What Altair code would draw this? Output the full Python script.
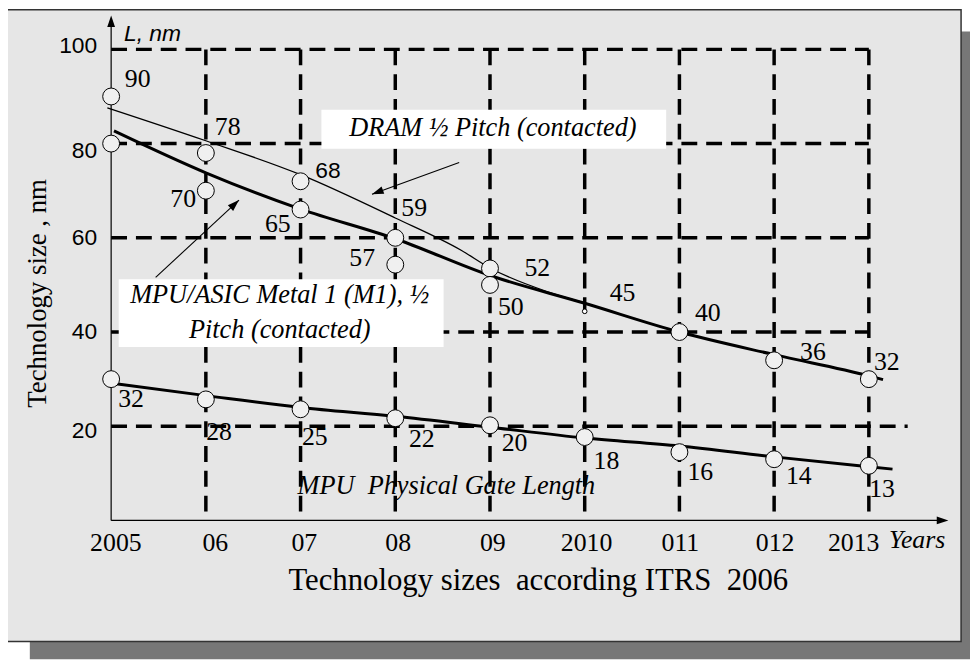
import altair as alt
import pandas as pd

# ---------------- data ----------------
years = [2005, 2006, 2007, 2008, 2009, 2010, 2011, 2012, 2013]

# circles as drawn
dram_years = [2005, 2006, 2007, 2008, 2009]
dram_pts = [90, 78, 72, 60, 53.5]
m1_years = [2005, 2006, 2007, 2008, 2009, 2011, 2012, 2013]
m1_pts = [80, 70, 66, 54.3, 50, 40, 34, 30]
mid_years = [2010]
mid_pts = [44.4]
gate_pts = [30, 25.7, 23.6, 21.7, 20.2, 17.7, 14.5, 13, 11.6]

# trend curves
dram_curve_x = [2004.96, 2006, 2007, 2008, 2008.7, 2009, 2009.6, 2010]
dram_curve_y = [87.6, 80.6, 73.4, 64.2, 57.3, 53.6, 48.6, 46.2]
m1_curve_x = [2005.03, 2006, 2007, 2008, 2009, 2010, 2011, 2012, 2013, 2013.15]
m1_curve_y = [82.7, 73.8, 66.1, 59.8, 52.0, 46.1, 40.0, 35.2, 30.7, 29.9]
gate_curve_x = [2005.05, 2006, 2007, 2008, 2009, 2010, 2011, 2012, 2013, 2013.25]
gate_curve_y = [29.0, 26.5, 24.0, 22.1, 19.8, 17.5, 15.8, 13.5, 11.4, 10.9]

# printed values next to the circles
val_text = ["90", "78", "68", "59", "52", "45", "40", "36", "32",
            "70", "65", "57", "50",
            "32", "28", "25", "22", "20", "18", "16", "14", "13"]
val_x = [2005.28, 2006.23, 2007.29, 2008.20, 2009.50, 2010.40, 2011.30, 2012.41, 2013.19,
         2005.76, 2006.76, 2007.65, 2009.22,
         2005.21, 2006.14, 2007.15, 2008.28, 2009.26, 2010.23, 2011.22, 2012.26, 2013.14]
val_y = [93.7, 83.6, 74.1, 66.3, 53.5, 48.2, 44.0, 35.8, 33.7,
         68.2, 62.9, 55.8, 45.3,
         25.7, 18.7, 17.7, 17.3, 16.4, 12.6, 10.3, 9.5, 6.7]
val_sans = [False, False, True] + [False] * 19

# axis tick labels
ytick_text = ["20", "40", "60", "80", "100"]
ytick_pos = [19.0, 40.0, 60.0, 78.5, 100.8]
xtick_text = ["2005", "06", "07", "08", "09", "2010", "011", "012", "2013"]
xtick_pos = [2005.05, 2006.10, 2007.04, 2008.03, 2009.03, 2010.02, 2011.01, 2012.01, 2012.84]

# dashed grid
hgrid_vals = [20, 40, 60, 80, 100]
hgrid_end = [2013.41, 2013, 2013, 2013, 2013]
vgrid_years = [2006, 2007, 2008, 2009, 2010, 2011, 2012, 2013]

# annotation boxes / texts
box_x0 = [2007.22, 2005.08]
box_x1 = [2010.86, 2008.51]
box_y0 = [78.9, 36.8]
box_y1 = [87.2, 51.2]
NB = "\u00a0"
note_text = ["DRAM ½ Pitch (contacted)", "MPU/ASIC Metal 1 (M1), ½", "Pitch (contacted)",
             "MPU" + NB + " Physical Gate Length"]
note_x = [2009.03, 2006.78, 2006.78, 2008.54]
note_y = [83.4, 47.8, 40.4, 7.4]

# arrows (start -> tip)
arr_x0 = [2008.675, 2005.47]
arr_y0 = [76.0, 51.6]
arr_x1 = [2007.754, 2006.35]
arr_y1 = [69.26, 68.0]
arr_angle = [250, 47]

# ---------------- chart ----------------
XS = alt.Scale(domain=[2005, 2013], nice=False, zero=False)
YS = alt.Scale(domain=[0, 100], nice=False, zero=False)


def xq(f):
    return alt.X(f"{f}:Q", scale=XS, axis=None)


def yq(f):
    return alt.Y(f"{f}:Q", scale=YS, axis=None)


SERIF = "Liberation Serif"
SANS = "Liberation Sans"
one = pd.DataFrame({"a": [0]})

shadow = alt.Chart(one).mark_rect(color="#777777").encode(
    x=alt.value(-82), x2=alt.value(866), y=alt.value(-18), y2=alt.value(615))
frame = alt.Chart(one).mark_rect(fill="#e6e6e6", stroke="#333333", strokeWidth=1.5).encode(
    x=alt.value(-105), x2=alt.value(857), y=alt.value(-40), y2=alt.value(597))

hgrid = alt.Chart(pd.DataFrame({"y": hgrid_vals, "x0": [2005] * 5, "x1": hgrid_end})).mark_rule(
    color="black", strokeWidth=3.5, strokeDash=[16, 9]).encode(
    x=xq("x0"), x2="x1:Q", y=yq("y"))
vgrid = alt.Chart(pd.DataFrame({"x": vgrid_years, "y0": [100] * 8, "y1": [0] * 8})).mark_rule(
    color="black", strokeWidth=3.5, strokeDash=[16, 9]).encode(
    x=xq("x"), y=yq("y0"), y2="y1:Q")

axes_df = pd.DataFrame({"x0": [2005, 2005], "y0": [0, 0], "x1": [2005, 2013.78], "y1": [106.5, 0]})
axes = alt.Chart(axes_df).mark_rule(color="black", strokeWidth=1.2).encode(
    x=xq("x0"), y=yq("y0"), x2="x1:Q", y2="y1:Q")

HEAD = "M0,0L-0.6,1.8L0.6,1.8Z"
heads_df = pd.DataFrame({"x": [2005, 2013.84] + arr_x1, "y": [107.2, 0] + arr_y1,
                         "ang": [0, 90] + arr_angle})
heads = alt.Chart(heads_df).mark_point(shape=HEAD, filled=True, color="black", opacity=1, size=170).encode(
    x=xq("x"), y=yq("y"), angle=alt.Angle("ang:Q", scale=None))
arrows = alt.Chart(pd.DataFrame({"x0": arr_x0, "y0": arr_y0, "x1": arr_x1, "y1": arr_y1})).mark_rule(
    color="black", strokeWidth=1.1).encode(x=xq("x0"), y=yq("y0"), x2="x1:Q", y2="y1:Q")

boxes = alt.Chart(pd.DataFrame({"x0": box_x0, "x1": box_x1, "y0": box_y0, "y1": box_y1})).mark_rect(
    color="white", opacity=1).encode(x=xq("x0"), x2="x1:Q", y=yq("y0"), y2="y1:Q")

dram_line = alt.Chart(pd.DataFrame({"x": dram_curve_x, "y": dram_curve_y})).mark_line(
    color="black", strokeWidth=1.3, interpolate="monotone").encode(x=xq("x"), y=yq("y"))
m1_line = alt.Chart(pd.DataFrame({"x": m1_curve_x, "y": m1_curve_y})).mark_line(
    color="black", strokeWidth=3, interpolate="monotone").encode(x=xq("x"), y=yq("y"))
gate_line = alt.Chart(pd.DataFrame({"x": gate_curve_x, "y": gate_curve_y})).mark_line(
    color="black", strokeWidth=3, interpolate="monotone").encode(x=xq("x"), y=yq("y"))

circ_df = pd.DataFrame({"x": dram_years + m1_years + years, "y": dram_pts + m1_pts + gate_pts})
circles = alt.Chart(circ_df).mark_circle(
    color="#f0f0f0", stroke="black", strokeWidth=1, opacity=1, size=290).encode(x=xq("x"), y=yq("y"))
mid = alt.Chart(pd.DataFrame({"x": mid_years, "y": mid_pts})).mark_circle(
    color="white", stroke="black", strokeWidth=1, opacity=1, size=22).encode(x=xq("x"), y=yq("y"))

vals_df = pd.DataFrame({"t": val_text, "x": val_x, "y": val_y, "sans": val_sans})
vals_serif = alt.Chart(vals_df).transform_filter("!datum.sans").mark_text(
    font=SERIF, fontSize=26, color="black", align="center", baseline="middle").encode(
    x=xq("x"), y=yq("y"), text="t:N")
vals_sans = alt.Chart(vals_df).transform_filter("datum.sans").mark_text(
    font=SANS, fontSize=23, color="black", align="center", baseline="middle").encode(
    x=xq("x"), y=yq("y"), text="t:N")

notes = alt.Chart(pd.DataFrame({"t": note_text, "x": note_x, "y": note_y})).mark_text(
    font=SERIF, fontSize=26.5, fontStyle="italic", color="black", align="center", baseline="middle").encode(
    x=xq("x"), y=yq("y"), text="t:N")

yticks = alt.Chart(pd.DataFrame({"t": ytick_text, "y": ytick_pos, "x": [2004.853] * 5})).mark_text(
    font=SANS, fontSize=23, color="black", align="right", baseline="middle").encode(
    x=xq("x"), y=yq("y"), text="t:N")
xticks = alt.Chart(pd.DataFrame({"t": xtick_text, "x": xtick_pos, "y": [-4.8] * 9})).mark_text(
    font=SERIF, fontSize=26, color="black", align="center", baseline="middle").encode(
    x=xq("x"), y=yq("y"), text="t:N")

titles_df = pd.DataFrame({
    "t": ["Years", "L, nm",
          "Technology sizes" + NB + " according ITRS" + NB + " 2006",
          "Technology size , nm"],
    "x": [2013.51, 2005.136, 2009.51, 2004.225],
    "y": [-4.2, 103.2, -12.84, 48.2],
})
t_years = alt.Chart(titles_df.iloc[[0]]).mark_text(
    font=SERIF, fontSize=26, fontStyle="italic", color="black", align="center", baseline="middle").encode(
    x=xq("x"), y=yq("y"), text="t:N")
t_L = alt.Chart(titles_df.iloc[[1]]).mark_text(
    font=SANS, fontSize=23, fontStyle="italic", color="black", align="left", baseline="middle").encode(
    x=xq("x"), y=yq("y"), text="t:N")
t_x = alt.Chart(titles_df.iloc[[2]]).mark_text(
    font=SERIF, fontSize=31, color="black", align="center", baseline="middle").encode(
    x=xq("x"), y=yq("y"), text="t:N")
t_y = alt.Chart(titles_df.iloc[[3]]).mark_text(
    font=SERIF, fontSize=27, color="black", align="center", baseline="middle", angle=270).encode(
    x=xq("x"), y=yq("y"), text="t:N")

chart = alt.layer(
    shadow, frame, hgrid, vgrid, axes, boxes, arrows,
    dram_line, m1_line, gate_line, circles, mid, heads,
    vals_serif, vals_sans, notes, yticks, xticks, t_years, t_L, t_x, t_y,
).properties(
    width=764, height=475,
    padding={"left": 104, "top": 39, "right": 102, "bottom": 140},
    autosize=alt.AutoSizeParams(type="none"),
    background="white",
).configure_view(strokeWidth=0)

chart.save("out.html", embed_options={"renderer": "svg", "actions": False})
